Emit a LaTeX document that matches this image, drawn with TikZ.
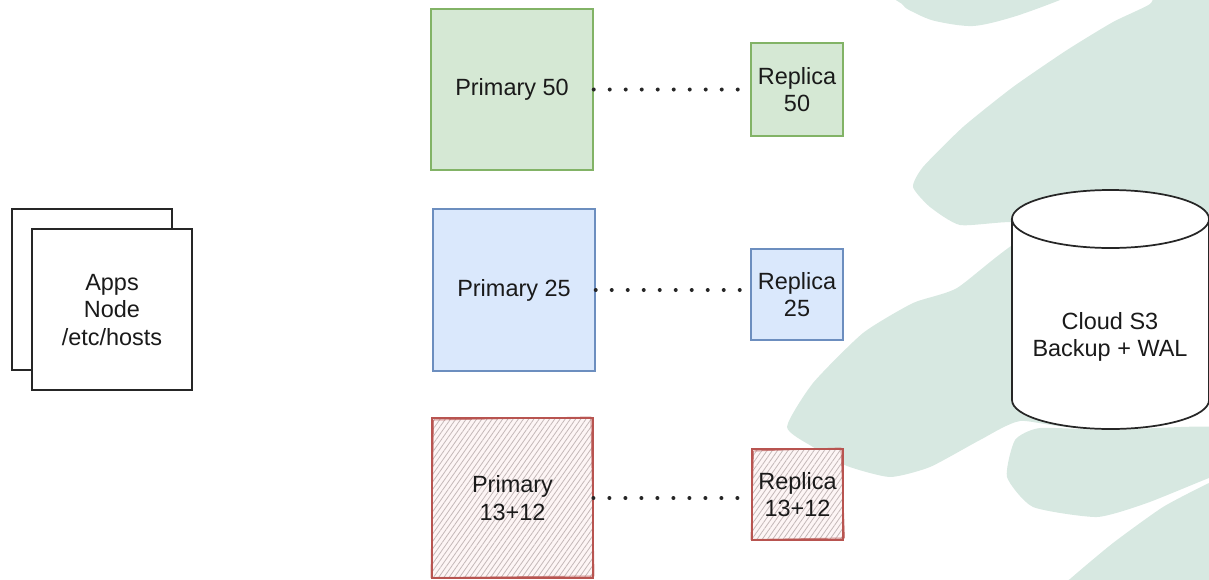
\documentclass[tikz,border=0pt]{standalone}
\usepackage{fontspec}
\setmainfont{Liberation Sans}
\usetikzlibrary{fit,patterns.meta}
\definecolor{gfill}{HTML}{D5E8D4}
\definecolor{gline}{HTML}{82B366}
\definecolor{bfill}{HTML}{DAE8FC}
\definecolor{bline}{HTML}{6C8EBF}
\definecolor{rline}{HTML}{B85450}
\definecolor{hatch}{RGB}{196,184,184}
\definecolor{wash}{RGB}{215,232,225}
\definecolor{txt}{HTML}{1A1A1A}
\begin{document}
\begin{tikzpicture}[x=0.75pt,y=-0.75pt,
  lbl/.style={font=\fontsize{17.6}{20.5}\selectfont, text=txt, align=center},
  box/.style={lbl, inner sep=0pt, line width=1.1pt},
  greenbox/.style={box, draw=gline, fill=gfill},
  bluebox/.style={box, draw=bline, fill=bfill},
  redbox/.style={box, draw=rline, line width=1.2pt,
    preaction={fill={rgb,255:red,253;green,245;blue,245}},
    pattern={Lines[angle=55,distance=3.2pt,line width=0.6pt]}, pattern color=hatch},
  appbox/.style={box, draw=black!85, fill=white},
  dots/.style={line width=3pt, line cap=round, dash pattern=on 0pt off 12pt, draw=black!85},
  washfill/.style={fill=wash, draw=none}
]
\useasboundingbox (0,0) rectangle (1209,579);

% background brush strokes
\begin{scope}
\clip (0,0) rectangle (1209,579);
\fill[washfill] plot[smooth cycle, tension=0.5] coordinates {(898,-12) (903,5) (913,12) (935,21) (973,26) (1013,17) (1060,0) (1085,-12)};
\fill[washfill] plot[smooth cycle, tension=0.35] coordinates {(1160,-12) (1150,4) (1113,22) (1067,50) (1013,87) (963,127) (923,167) (913,187) (930,207) (960,225) (1012,222) (1110,226) (1225,226) (1225,-12)};
\fill[washfill] plot[smooth cycle, tension=0.35] coordinates {(1025,238) (957,288) (913,303) (863,333) (813,383) (787,427) (813,447) (847,466) (890,477) (930,467) (980,440) (1020,421) (1100,420) (1110,238)};
\fill[washfill] plot[smooth cycle, tension=0.35] coordinates {(1007,477) (1015,440) (1040,428) (1110,430) (1225,428) (1225,474) (1209,478) (1147,503) (1097,517) (1033,507)};
\fill[washfill] plot[smooth cycle, tension=0.35] coordinates {(1055,595) (1070,579) (1113,543) (1163,507) (1209,483) (1225,478) (1225,595)};
\end{scope}

% apps node (stacked)
\node[appbox, fit={(12,209) (172,370)}] (appsback) {};
\node[appbox, fit={(32,229) (192,390)}] (apps) {};
\node[lbl] (appstext) at (112,310) {Apps\\Node\\/etc/hosts};

% primaries
\node[greenbox, fit={(431,9) (593,170)}] (p50) {};
\node[lbl] at (p50.center) {Primary 50};
\node[bluebox, fit={(433,209) (595,371)}] (p25) {};
\node[lbl] at (p25.center) {Primary 25};
\node[redbox, fit={(432,418) (593,578)}] (p13) {};
\draw[rline, line width=0.7pt, opacity=0.7] (433.5,420) -- (591,417) -- (594,576) -- (431,577.5) -- cycle;
\node[lbl] at (p13.center) {Primary\\13+12};

% replicas
\node[greenbox, fit={(751,43) (843,136)}] (r50) {};
\node[lbl] at (r50.center) {Replica\\50};
\node[bluebox, fit={(751,249) (843,340)}] (r25) {};
\node[lbl] at (r25.center) {Replica\\25};
\node[redbox, fit={(752,449) (843,540)}] (r13) {};
\draw[rline, line width=0.7pt, opacity=0.7] (753.5,451) -- (841,448) -- (844.5,538) -- (751,539.5) -- cycle;
\node[lbl] at (r13.center) {Replica\\13+12};

% dotted replication links
\draw[dots] (p50.east) -- (r50.west |- p50.east);
\draw[dots] (p25.east) -- (r25.west |- p25.east);
\draw[dots] (p13.east) -- (r13.west |- p13.east);

% cloud storage cylinder
\node[inner sep=0pt, fit={(1012,190) (1209,429)}] (s3) {};
\draw[line width=1.3pt, draw=black!85, fill=white]
  (1012,219) -- (1012,400) arc[start angle=180, end angle=360, x radius=73.9pt, y radius=21.75pt]
  -- (1209,219) arc[start angle=0, end angle=180, x radius=73.9pt, y radius=21.75pt] -- cycle;
\draw[line width=1.3pt, draw=black!85]
  (1012,219) arc[start angle=180, end angle=360, x radius=73.9pt, y radius=21.75pt];
\node[lbl] (s3text) at (1110,337) {Cloud S3\\Backup + WAL};
\end{tikzpicture}
\end{document}
